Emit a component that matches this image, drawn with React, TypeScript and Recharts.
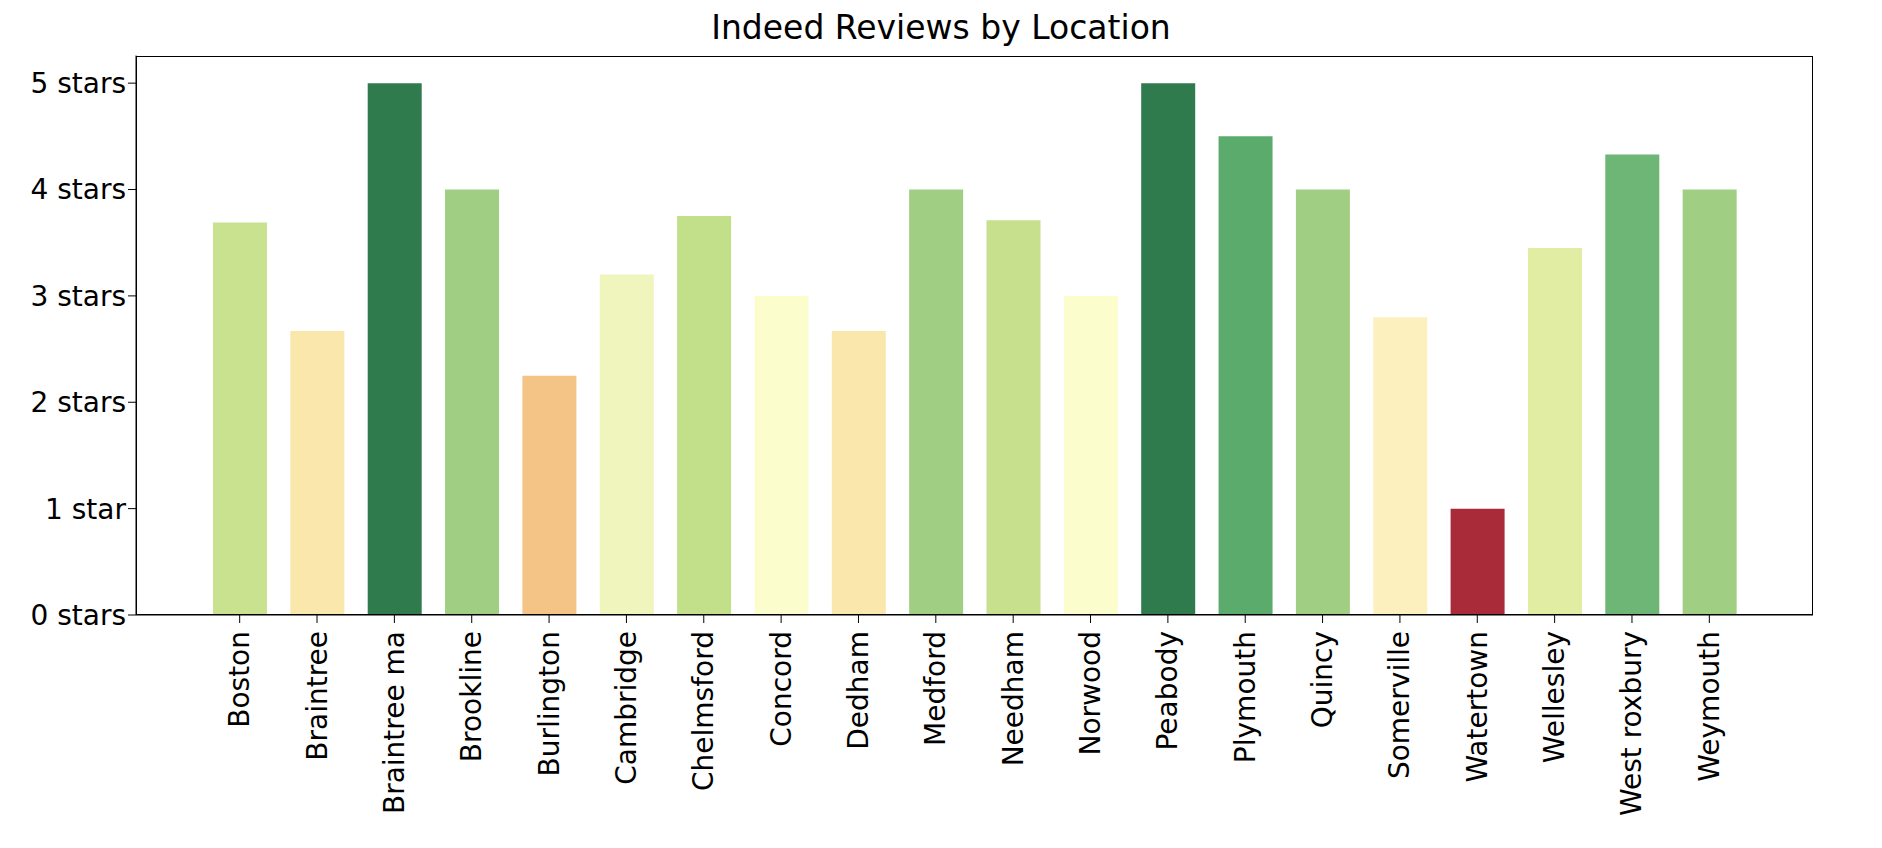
import React from "react";
import { BarChart, Bar, XAxis, YAxis, Cell } from "recharts";

const locations = [
  "Boston", "Braintree", "Braintree ma", "Brookline", "Burlington", "Cambridge", "Chelmsford",
  "Concord", "Dedham", "Medford", "Needham", "Norwood", "Peabody", "Plymouth", "Quincy",
  "Somerville", "Watertown", "Wellesley", "West roxbury", "Weymouth",
];
const ratings = [3.69, 2.67, 5, 4, 2.25, 3.2, 3.75, 3, 2.67, 4, 3.71, 3, 5, 4.5, 4, 2.8, 1, 3.45, 4.33, 4];
const colors = [
  "#c9e290", "#fae7ab", "#2f7b4e", "#a0ce82", "#f4c487", "#f0f5bd", "#c2df8a",
  "#fcfdcd", "#fae7ab", "#a0ce82", "#c6e08e", "#fcfdcd", "#2f7b4e", "#5aab6c", "#a0ce82",
  "#fcf0bf", "#a92a38", "#e0eda3", "#6db675", "#a0ce82",
];
const yTicks = [0, 1, 2, 3, 4, 5];
const yLabels = ["0 stars", "1 star", "2 stars", "3 stars", "4 stars", "5 stars"];

const data = locations.map((name, i) => ({ name, rating: ratings[i] }));
const font = "'DejaVu Sans', sans-serif";

const XTick = (props: any) => {
  const { x, y, payload } = props;
  return (
    <text x={x} y={y + 6} transform={`rotate(-90 ${x} ${y + 6})`} textAnchor="end"
      dominantBaseline="central" fontSize={28} fontFamily={font} fill="#000">
      {payload.value}
    </text>
  );
};

export default function App() {
  return (
    <div style={{ position: "relative", width: 1866, height: 832, fontFamily: font }}>
      <div style={{ position: "absolute", left: 0, top: 0, width: "100%", textAlign: "center", fontSize: 33, color: "#000" }}>
        Indeed Reviews by Location
      </div>
      <BarChart width={1866} height={832} data={data} barSize={54}
        margin={{ top: 47.5, right: 61, left: 48, bottom: 25 }}>
        <XAxis dataKey="name" interval={0} height={200} padding={{ left: 65, right: 65 }}
          tick={<XTick />} tickSize={8} stroke="#000" tickLine={{ stroke: "#000" }} />
        <YAxis domain={[0, 5.26]} ticks={yTicks} width={80} tickSize={8} stroke="#000"
          tickFormatter={(v: number) => yLabels[v]}
          tick={{ fontSize: 28, fontFamily: font, fill: "#000" }} />
        <Bar dataKey="rating" isAnimationActive={false}>
          {data.map((d, i) => <Cell key={d.name} fill={colors[i]} />)}
        </Bar>
      </BarChart>
      <div style={{ position: "absolute", left: 128, top: 47.5, width: 1677, height: 559.5, border: "1.5px solid #000", boxSizing: "border-box", pointerEvents: "none" }} />
    </div>
  );
}
